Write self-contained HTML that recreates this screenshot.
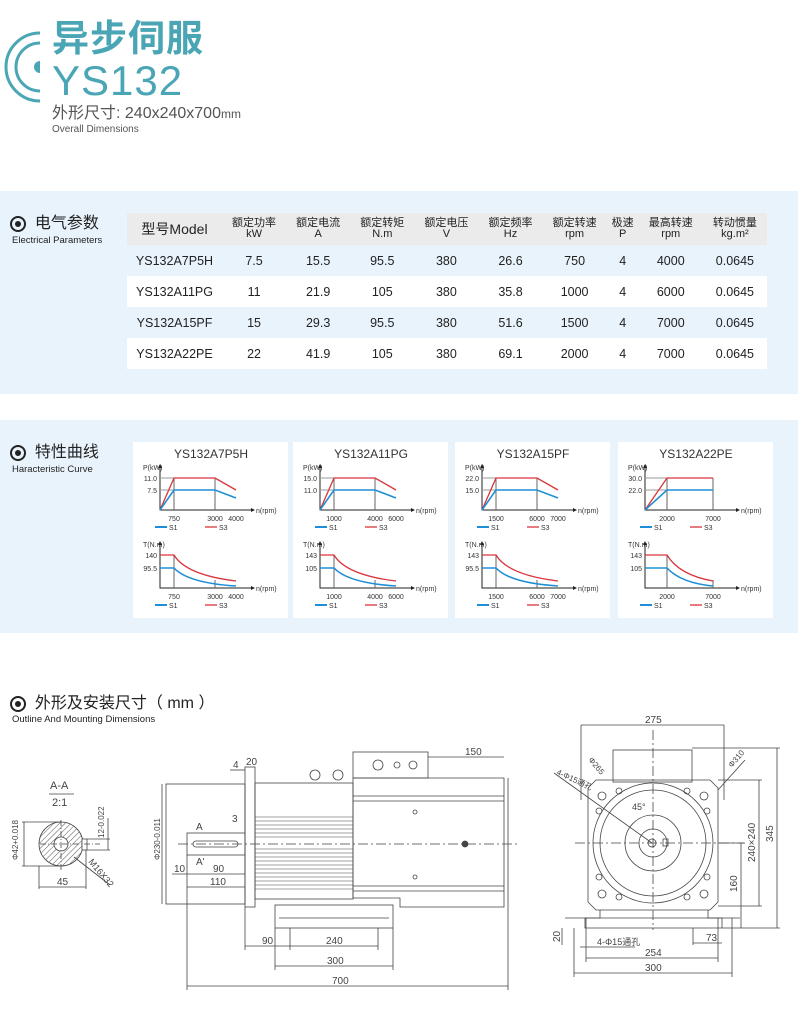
<!DOCTYPE html>
<html><head><meta charset="utf-8"><style>
body{margin:0;width:798px;height:1009px;background:#fff;position:relative;overflow:hidden;font-family:"Liberation Sans","Noto Sans CJK SC",sans-serif;color:#222}
.a{position:absolute;white-space:nowrap;line-height:1}
.band{position:absolute;left:0;width:798px;background:#e8f3fb}
table{position:absolute;left:127px;top:213px;width:640px;border-collapse:collapse;font-size:12.5px}
td{text-align:center;padding:0;height:31px}
tr.h td{background:#ebebeb;font-size:11px;line-height:11px;height:32px}
tr.w td{background:#fff}
.dot{display:inline-block;width:12px;height:12px;border:2px solid #222;border-radius:50%;position:relative;vertical-align:middle}
.dot:after{content:"";position:absolute;left:3px;top:3px;width:6px;height:6px;border-radius:50%;background:#222}
.card{position:absolute;top:442px;width:155px;height:176px;background:#fff}
</style></head><body>
<svg class="a" style="left:4px;top:30px" width="40" height="74"><path d="M36 3 A34 34 0 0 0 36 71" fill="none" stroke="#4aa6b4" stroke-width="3"/><path d="M36 13 A24 24 0 0 0 36 61" fill="none" stroke="#4aa6b4" stroke-width="3"/><path d="M36 31 A6 6 0 0 0 36 43 Z" fill="#4aa6b4"/></svg>
<div class="a" style="left:52px;top:20px;font-size:37px;font-weight:bold;color:#4aa6b4;letter-spacing:1px">异步伺服</div>
<div class="a" style="left:52px;top:60px;font-size:42px;color:#4aa6b4;letter-spacing:1px">YS132</div>
<div class="a" style="left:52px;top:106px;font-size:16px;color:#555">外形尺寸: 240x240x700<span style="font-size:12px">mm</span></div>
<div class="a" style="left:52px;top:125px;font-size:10px;color:#555">Overall Dimensions</div>

<div class="band" style="top:191px;height:203px"></div>
<div class="a" style="left:10px;top:216px;font-size:16px"><span class="dot"></span>&nbsp; 电气参数</div>
<div class="a" style="left:12px;top:236px;font-size:9.5px">Electrical Parameters</div>
<table>
<tr class="h"><td style="font-size:14px;width:95px">型号Model</td><td>额定功率<br>kW</td><td>额定电流<br>A</td><td>额定转矩<br>N.m</td><td>额定电压<br>V</td><td>额定频率<br>Hz</td><td>额定转速<br>rpm</td><td>极速<br>P</td><td>最高转速<br>rpm</td><td>转动惯量<br>kg.m²</td></tr>
<tr><td>YS132A7P5H</td><td>7.5</td><td>15.5</td><td>95.5</td><td>380</td><td>26.6</td><td>750</td><td>4</td><td>4000</td><td>0.0645</td></tr>
<tr class="w"><td>YS132A11PG</td><td>11</td><td>21.9</td><td>105</td><td>380</td><td>35.8</td><td>1000</td><td>4</td><td>6000</td><td>0.0645</td></tr>
<tr><td>YS132A15PF</td><td>15</td><td>29.3</td><td>95.5</td><td>380</td><td>51.6</td><td>1500</td><td>4</td><td>7000</td><td>0.0645</td></tr>
<tr class="w"><td>YS132A22PE</td><td>22</td><td>41.9</td><td>105</td><td>380</td><td>69.1</td><td>2000</td><td>4</td><td>7000</td><td>0.0645</td></tr>
</table>

<div class="band" style="top:420px;height:213px"></div>
<div class="a" style="left:10px;top:445px;font-size:16px"><span class="dot"></span>&nbsp; 特性曲线</div>
<div class="a" style="left:12px;top:465px;font-size:9.5px">Haracteristic Curve</div>
<div id="cards"></div>

<div class="a" style="left:10px;top:696px;font-size:16px"><span class="dot"></span>&nbsp; 外形及安装尺寸（ mm ）</div>
<div class="a" style="left:12px;top:715px;font-size:9.5px">Outline And Mounting Dimensions</div>

<svg class="a" style="left:0;top:0" width="798" height="1009" font-family="Liberation Sans" font-size="10" fill="none" stroke="#444" stroke-width="0.8">
<text x="50" y="789" fill="#444" stroke="none" font-size="11">A-A</text><line x1="49" y1="794" x2="74" y2="794"/>
<text x="52" y="806" fill="#444" stroke="none" font-size="11">2:1</text>
<circle cx="61" cy="844" r="22" fill="url(#hatch)"/>
<circle cx="61" cy="844" r="7" fill="#fff"/>
<rect x="82" y="839" width="5" height="11" fill="#fff"/>
<line x1="40" y1="844" x2="100" y2="844" stroke-dasharray="6 2 1 2"/>
<line x1="61" y1="820" x2="61" y2="870" stroke-dasharray="6 2 1 2"/>
<line x1="22" y1="822" x2="61" y2="822"/><line x1="22" y1="866" x2="61" y2="866"/><line x1="24" y1="822" x2="24" y2="866"/>
<line x1="87" y1="839" x2="110" y2="839"/><line x1="87" y1="850" x2="110" y2="850"/><line x1="108" y1="818" x2="108" y2="850"/>
<line x1="39" y1="866" x2="39" y2="889"/><line x1="86" y1="850" x2="86" y2="889"/><line x1="39" y1="887" x2="86" y2="887"/>
<text x="57" y="885" fill="#444" stroke="none">45</text>
<line x1="74" y1="857" x2="110" y2="885"/>
<text x="88" y="862" fill="#444" stroke="none" font-size="9" transform="rotate(50 88 862)">M16X32</text>
<text x="18" y="860" fill="#444" stroke="none" font-size="8" transform="rotate(-90 18 860)">Φ42+0.018</text>
<text x="104" y="838" fill="#444" stroke="none" font-size="8" transform="rotate(-90 104 838)">12-0.022</text>
<defs><pattern id="hatch" width="4" height="4" patternUnits="userSpaceOnUse" patternTransform="rotate(45)"><line x1="0" y1="0" x2="0" y2="4" stroke="#555" stroke-width="1"/></pattern></defs>
<rect x="166" y="784" width="79" height="120"/>
<rect x="245" y="767" width="10" height="140"/>
<rect x="255" y="783" width="98" height="116"/>
<g stroke-width="0.6"><line x1="255" y1="817" x2="353" y2="817"/><line x1="255" y1="821" x2="353" y2="821"/><line x1="255" y1="825" x2="353" y2="825"/><line x1="255" y1="829" x2="353" y2="829"/><line x1="255" y1="833" x2="353" y2="833"/><line x1="255" y1="837" x2="353" y2="837"/><line x1="255" y1="849" x2="353" y2="849"/><line x1="255" y1="853" x2="353" y2="853"/><line x1="255" y1="857" x2="353" y2="857"/><line x1="255" y1="861" x2="353" y2="861"/><line x1="255" y1="865" x2="353" y2="865"/><line x1="255" y1="869" x2="353" y2="869"/><line x1="255" y1="873" x2="353" y2="873"/><line x1="255" y1="877" x2="353" y2="877"/><line x1="255" y1="881" x2="353" y2="881"/><line x1="255" y1="885" x2="353" y2="885"/><line x1="255" y1="889" x2="353" y2="889"/></g>
<rect x="187" y="833" width="58" height="22"/>
<rect x="193" y="841" width="45" height="6" rx="3"/>
<rect x="353" y="752" width="75" height="26"/>
<circle cx="378" cy="765" r="5"/><circle cx="397" cy="765" r="3"/><circle cx="413" cy="765" r="4"/>
<circle cx="315" cy="775" r="5"/><circle cx="338" cy="775" r="5"/>
<path d="M353 778 H504 V907 H400 V898 H353 Z"/>
<line x1="353" y1="796" x2="504" y2="796"/><line x1="353" y1="801" x2="504" y2="801"/><line x1="353" y1="886" x2="504" y2="886"/><line x1="353" y1="891" x2="504" y2="891"/>
<circle cx="465" cy="844" r="3" fill="#444"/><circle cx="415" cy="812" r="2"/><circle cx="415" cy="877" r="2"/>
<rect x="275" y="905" width="118" height="23"/>
<line x1="279" y1="918" x2="389" y2="918"/>
<line x1="178" y1="844" x2="518" y2="844" stroke-dasharray="10 3 2 3"/>
<line x1="245" y1="907" x2="245" y2="950"/><line x1="290" y1="928" x2="290" y2="950"/><line x1="378" y1="928" x2="378" y2="950"/>
<line x1="245" y1="946" x2="378" y2="946"/>
<text x="262" y="944" fill="#444" stroke="none">90</text><text x="326" y="944" fill="#444" stroke="none">240</text>
<line x1="275" y1="928" x2="275" y2="970"/><line x1="393" y1="928" x2="393" y2="970"/><line x1="275" y1="966" x2="393" y2="966"/>
<text x="327" y="964" fill="#444" stroke="none">300</text>
<line x1="187" y1="855" x2="187" y2="990"/><line x1="508" y1="778" x2="508" y2="990"/><line x1="187" y1="986" x2="508" y2="986"/>
<text x="332" y="984" fill="#444" stroke="none">700</text>
<line x1="428" y1="757" x2="504" y2="757"/><text x="465" y="755" fill="#444" stroke="none">150</text>
<line x1="162" y1="784" x2="162" y2="904"/><text x="160" y="860" fill="#444" stroke="none" font-size="8" transform="rotate(-90 160 860)">Φ230-0.011</text>
<line x1="172" y1="874" x2="245" y2="874"/><text x="174" y="872" fill="#444" stroke="none">10</text>
<text x="213" y="872" fill="#444" stroke="none">90</text>
<line x1="187" y1="887" x2="245" y2="887"/><text x="210" y="885" fill="#444" stroke="none">110</text>
<text x="196" y="830" fill="#444" stroke="none">A</text><text x="196" y="865" fill="#444" stroke="none">A'</text>
<text x="232" y="822" fill="#444" stroke="none">3</text>
<line x1="230" y1="770" x2="245" y2="770"/><text x="233" y="768" fill="#444" stroke="none">4</text><text x="246" y="765" fill="#444" stroke="none">20</text>
<line x1="581" y1="725" x2="724" y2="725"/><line x1="581" y1="725" x2="581" y2="800"/><line x1="724" y1="725" x2="724" y2="800"/>
<text x="645" y="723" fill="#444" stroke="none">275</text>
<rect x="613" y="750" width="79" height="32"/>
<path d="M596 780 H710 L718 788 V902 L710 910 H596 L588 902 V788 Z"/>
<path d="M600 910 V918 L585 918 V928 H722 V918 L708 918 V910"/>
<line x1="565" y1="918" x2="740" y2="918"/>
<circle cx="653" cy="843" r="60"/><circle cx="653" cy="843" r="53"/><circle cx="653" cy="843" r="28"/><circle cx="653" cy="843" r="14"/><circle cx="652" cy="843" r="4"/>
<rect x="663" y="839" width="5" height="7"/>
<line x1="575" y1="843" x2="745" y2="843" stroke-dasharray="10 3 2 3"/>
<line x1="653" y1="730" x2="653" y2="930" stroke-dasharray="10 3 2 3"/>
<g><circle cx="602" cy="796" r="4"/><circle cx="704" cy="796" r="4"/><circle cx="602" cy="894" r="4"/><circle cx="704" cy="894" r="4"/><circle cx="619" cy="791" r="3"/><circle cx="687" cy="791" r="3"/><circle cx="599" cy="811" r="3"/><circle cx="707" cy="811" r="3"/><circle cx="599" cy="877" r="3"/><circle cx="707" cy="877" r="3"/><circle cx="619" cy="897" r="3"/><circle cx="687" cy="897" r="3"/></g>
<line x1="554" y1="773" x2="652" y2="843"/><text x="556" y="774" fill="#444" stroke="none" font-size="8" transform="rotate(25 556 774)">4-Φ15通孔</text>
<text x="588" y="760" fill="#444" stroke="none" font-size="8" transform="rotate(50 588 760)">Φ265</text>
<line x1="718" y1="790" x2="745" y2="760"/><text x="732" y="768" fill="#444" stroke="none" font-size="8" transform="rotate(-50 732 768)">Φ310</text>
<text x="632" y="810" fill="#444" stroke="none" font-size="9">45°</text>
<line x1="692" y1="748" x2="780" y2="748"/><line x1="722" y1="928" x2="780" y2="928"/><line x1="777" y1="748" x2="777" y2="928"/>
<text x="773" y="842" fill="#444" stroke="none" transform="rotate(-90 773 842)">345</text>
<line x1="718" y1="780" x2="762" y2="780"/><line x1="718" y1="906" x2="762" y2="906"/><line x1="759" y1="780" x2="759" y2="906"/>
<text x="755" y="862" fill="#444" stroke="none" transform="rotate(-90 755 862)">240×240</text>
<line x1="718" y1="843" x2="744" y2="843"/><line x1="741" y1="843" x2="741" y2="928"/>
<text x="737" y="892" fill="#444" stroke="none" transform="rotate(-90 737 892)">160</text>
<line x1="562" y1="928" x2="562" y2="945"/><text x="560" y="942" fill="#444" stroke="none" transform="rotate(-90 560 942)">20</text>
<text x="597" y="945" fill="#444" stroke="none" font-size="9">4-Φ15通孔</text><line x1="580" y1="947" x2="635" y2="947"/>
<line x1="693" y1="928" x2="693" y2="945"/><line x1="693" y1="943" x2="722" y2="943"/><text x="706" y="941" fill="#444" stroke="none">73</text>
<line x1="586" y1="918" x2="586" y2="962"/><line x1="718" y1="918" x2="718" y2="962"/><line x1="586" y1="958" x2="718" y2="958"/><text x="645" y="956" fill="#444" stroke="none">254</text>
<line x1="574" y1="928" x2="574" y2="977"/><line x1="732" y1="918" x2="732" y2="977"/><line x1="574" y1="973" x2="732" y2="973"/><text x="645" y="971" fill="#444" stroke="none">300</text>
</svg>

<script>
var C=[
{x:133,t:"YS132A7P5H",p:["11.0","7.5"],tq:["140","95.5"],k:[[41,"750"],[82,"3000"],[103,"4000"]],dr:1},
{x:293,t:"YS132A11PG",p:["15.0","11.0"],tq:["143","105"],k:[[41,"1000"],[82,"4000"],[103,"6000"]],dr:1},
{x:455,t:"YS132A15PF",p:["22.0","15.0"],tq:["143","95.5"],k:[[41,"1500"],[82,"6000"],[103,"7000"]],dr:1},
{x:618,t:"YS132A22PE",p:["30.0","22.0"],tq:["143","105"],k:[[49,"2000"],[95,"7000"]],dr:0}];
var h="";
C.forEach(function(c){
var k1=c.k[0][0],kl=c.k[c.k.length-1][0],km=c.k.length>2?c.k[1][0]:kl;
var s='<div class="card" style="left:'+c.x+'px"><svg width="155" height="176" font-family="Liberation Sans" font-size="7" fill="#333">';
s+='<text x="78" y="16" text-anchor="middle" font-size="12">'+c.t+'</text>';
s+='<text x="10" y="28">P(kW)</text><text x="24" y="39" text-anchor="end">'+c.p[0]+'</text><text x="24" y="51" text-anchor="end">'+c.p[1]+'</text>';
s+='<g stroke="#222" stroke-width="1" fill="none"><path d="M27 24 V68 H118"/><line x1="'+k1+'" y1="36" x2="'+k1+'" y2="68" stroke="#666"/><line x1="'+km+'" y1="36" x2="'+km+'" y2="68" stroke="#666"/><line x1="27" y1="36" x2="'+k1+'" y2="36" stroke="#999"/><line x1="27" y1="48" x2="'+k1+'" y2="48" stroke="#999"/></g>';
s+='<path d="M118 66 L122 68 L118 70Z" fill="#222"/><path d="M25 26 L27 22 L29 26Z" fill="#222"/><text x="123" y="71">n(rpm)</text>';
var red=c.dr?'M27 68 L'+k1+' 36 H'+km+' L'+kl+' 48':'M27 68 L'+k1+' 36 H'+kl;
var blu=c.dr?'M27 68 L'+k1+' 48 H'+km+' L'+kl+' 56':'M27 68 L'+k1+' 48 H'+kl;
s+='<path d="'+red+'" stroke="#d9343c" stroke-width="1.3" fill="none"/><path d="'+blu+'" stroke="#1e8fd6" stroke-width="1.6" fill="none"/>';
c.k.forEach(function(q){s+='<text x="'+q[0]+'" y="79" text-anchor="middle">'+q[1]+'</text>';});
s+='<line x1="22" y1="85" x2="34" y2="85" stroke="#1e8fd6" stroke-width="2"/><text x="36" y="88">S1</text><line x1="72" y1="85" x2="84" y2="85" stroke="#d9343c" stroke-width="1.3"/><text x="86" y="88">S3</text>';
s+='<text x="10" y="105">T(N.m)</text><text x="24" y="116" text-anchor="end">'+c.tq[0]+'</text><text x="24" y="129" text-anchor="end">'+c.tq[1]+'</text>';
s+='<g stroke="#222" stroke-width="1" fill="none"><path d="M27 101 V146 H118"/><line x1="'+k1+'" y1="113" x2="'+k1+'" y2="146" stroke="#666"/><line x1="'+km+'" y1="138" x2="'+km+'" y2="146" stroke="#666"/></g>';
s+='<path d="M118 144 L122 146 L118 148Z" fill="#222"/><path d="M25 103 L27 99 L29 103Z" fill="#222"/><text x="123" y="149">n(rpm)</text>';
s+='<path d="M27 113 H'+k1+' Q'+(k1+12)+' 133 '+kl+' 139" stroke="#d9343c" stroke-width="1.3" fill="none"/>';
s+='<path d="M27 126 H'+k1+' Q'+(k1+14)+' 141 '+kl+' 144" stroke="#1e8fd6" stroke-width="1.6" fill="none"/>';
c.k.forEach(function(q){s+='<text x="'+q[0]+'" y="157" text-anchor="middle">'+q[1]+'</text>';});
s+='<line x1="22" y1="163" x2="34" y2="163" stroke="#1e8fd6" stroke-width="2"/><text x="36" y="166">S1</text><line x1="72" y1="163" x2="84" y2="163" stroke="#d9343c" stroke-width="1.3"/><text x="86" y="166">S3</text>';
s+='</svg></div>';h+=s;});
document.getElementById("cards").innerHTML=h;
</script>
</body></html>
